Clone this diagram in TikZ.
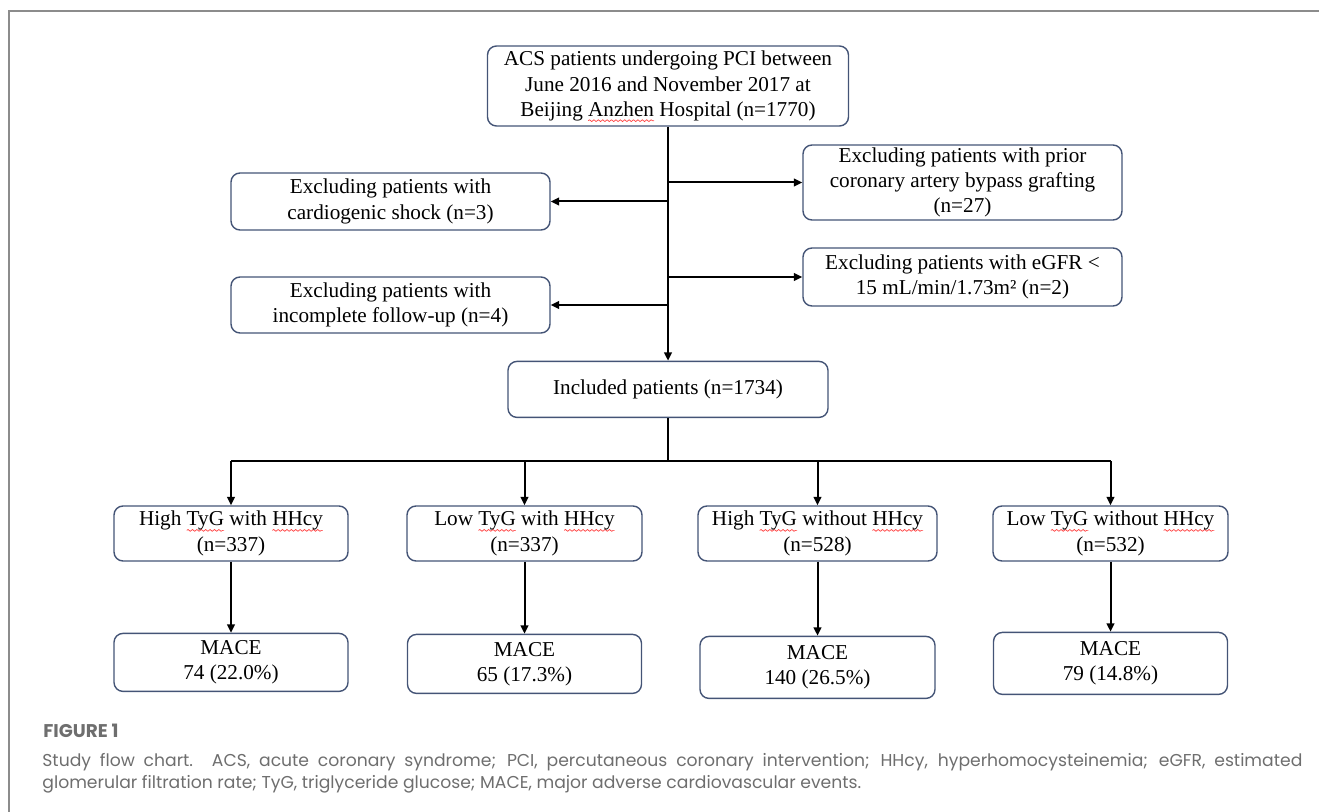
\documentclass[tikz,border=0pt]{standalone}
\usepackage{fontspec}
\setmainfont{Liberation Serif}
\newfontfamily\capfont{Poppins}
\usetikzlibrary{positioning,arrows.meta,decorations.pathmorphing}

\definecolor{boxline}{RGB}{68,84,118}
\definecolor{capgray}{RGB}{110,110,110}
\definecolor{framegray}{RGB}{140,140,140}

% red wavy mark under words (as in the source figure)
\newsavebox\splbox
\newcommand\spl[1]{\sbox\splbox{#1}\rlap{\tikz[overlay,baseline=0pt]\draw[red!75, line width=0.35pt, sharp corners,
    decorate, decoration={snake, amplitude=0.45pt, segment length=2.2pt}] (0pt,-2.2pt) -- (\the\wd\splbox,-2.2pt);}\usebox\splbox}

\tikzset{
  flowbox/.style={draw=boxline, line width=0.7pt, rounded corners=4.5pt, align=center,
    inner sep=1pt, font=\fontsize{10.6}{12.6}\selectfont},
  flowarrow/.style={-{Triangle[length=4.2pt,width=3.8pt]}, line width=1pt},
  flowline/.style={line width=1pt}
}

\begin{document}
\begin{tikzpicture}[x=0.5pt,y=-0.5pt]
  \useasboundingbox (0,0) rectangle (1319,812);
  % frame
  \draw[framegray, line width=1pt] (1319,11) -- (9,11) -- (9,812);

  % Nodes
  \node[flowbox, minimum width=180.5pt, minimum height=40pt] (start) at (668,86)
    {ACS patients undergoing PCI between\\June 2016 and November 2017 at\\Beijing \spl{Anzhen} Hospital (n=1770)};
  \node[flowbox, minimum width=160pt, minimum height=28pt, below=117pt of start] (incl)
    {Included patients (n=1734)};
  % exclusions
  \node[flowbox, minimum width=159.5pt, minimum height=28.5pt] (exshock) at (390.5,201.5)
    {Excluding patients with\\cardiogenic shock (n=3)};
  \node[flowbox, minimum width=159.5pt, minimum height=28pt] (exfollow) at (390.5,305)
    {Excluding patients with\\incomplete follow-up (n=4)};
  \node[flowbox, minimum width=159.5pt, minimum height=37.5pt, inner ysep=0pt] (excabg) at (962.5,182.5)
    {Excluding patients with prior\\coronary artery bypass grafting\\(n=27)};
  \node[flowbox, minimum width=159.5pt, minimum height=29pt] (exegfr) at (962.5,277)
    {Excluding patients with eGFR <\\15 mL/min/1.73m² (n=2)};
  % groups
  \coordinate (split) at (668,461.5);
  \node[flowbox, minimum width=117pt, minimum height=27.5pt] (g1) at (231,533.5)
    {High \spl{TyG} with \spl{HHcy}\\(n=337)};
  \node[flowbox, minimum width=117.5pt, minimum height=27.5pt] (g2) at (524.5,533.5)
    {Low \spl{TyG} with \spl{HHcy}\\(n=337)};
  \node[flowbox, minimum width=119.5pt, minimum height=27.5pt] (g3) at (817.5,533.5)
    {High \spl{TyG} without \spl{HHcy}\\(n=528)};
  \node[flowbox, minimum width=117.5pt, minimum height=27.5pt] (g4) at (1110.5,533.5)
    {Low \spl{TyG} without \spl{HHcy}\\(n=532)};
  % outcomes
  \node[flowbox, minimum width=117pt, minimum height=29pt, below=35.5pt of g1] (m1) {MACE\\74 (22.0\%)};
  \node[flowbox, minimum width=117pt, minimum height=29.5pt, below=36pt of g2] (m2) {MACE\\65 (17.3\%)};
  \node[flowbox, minimum width=117.5pt, minimum height=31pt, below=37pt of g3] (m3) {MACE\\140 (26.5\%)};
  \node[flowbox, minimum width=117pt, minimum height=31pt, below=35pt of g4] (m4) {MACE\\79 (14.8\%)};

  % edges
  \draw[flowarrow] (start) -- (incl);
  \draw[flowarrow] (start.south |- exshock.east) -- (exshock.east);
  \draw[flowarrow] (start.south |- exfollow.east) -- (exfollow.east);
  \draw[flowarrow] (start.south |- excabg.west) -- (excabg.west);
  \draw[flowarrow] (start.south |- exegfr.west) -- (exegfr.west);
  \draw[flowline] (incl) -- (split);
  \draw[flowline] (g1.north |- split) -- (g4.north |- split);
  \foreach \g/\m in {g1/m1,g2/m2,g3/m3,g4/m4}{
    \draw[flowarrow] (\g.north |- split) -- (\g);
    \draw[flowarrow] (\g) -- (\m);
  }

  % caption
  \node[anchor=base west, inner sep=0pt, text=capgray, font=\capfont\bfseries\fontsize{9.2}{10}\selectfont] (figlabel) at (43,738) {FIGURE 1};
  \node[anchor=base west, inner sep=0pt, text width=630pt, align=justify, text=capgray,
    font=\capfont\fontsize{8.6}{11.2}\selectfont] (caption) at (42,766.5)
    {Study flow chart. ACS, acute coronary syndrome; PCI, percutaneous coronary intervention; HHcy, hyperhomocysteinemia; eGFR, estimated\linebreak glomerular filtration rate; TyG, triglyceride glucose; MACE, major adverse cardiovascular events.};
\end{tikzpicture}
\end{document}
